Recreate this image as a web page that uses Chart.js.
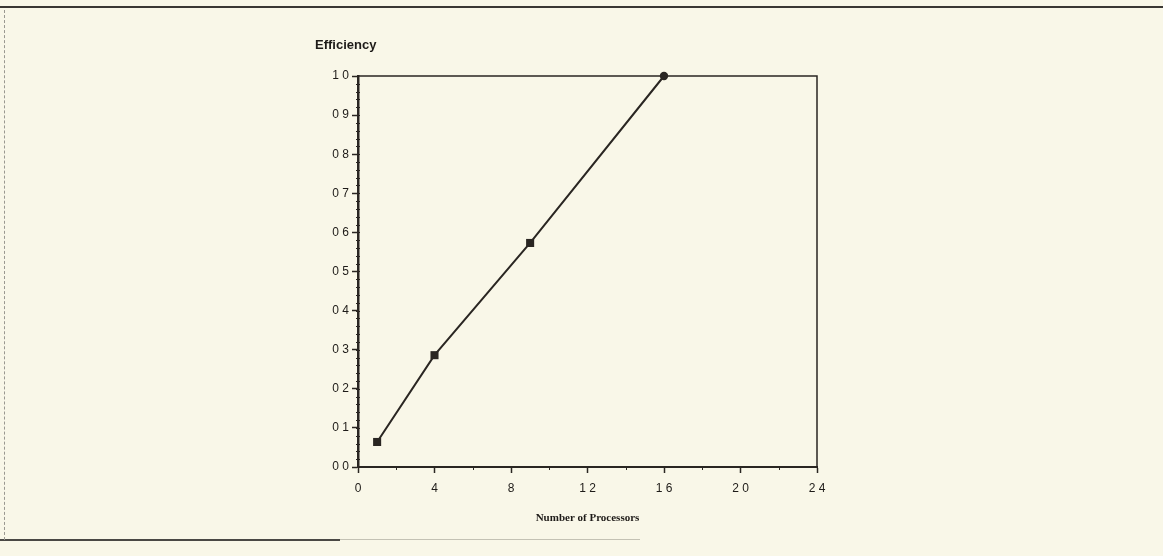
<!DOCTYPE html>
<html>
<head>
<meta charset="utf-8">
<script src="https://cdn.jsdelivr.net/npm/chart.js@4"></script>
<style>
  html, body { margin: 0; padding: 0; background: #f9f7e8; }
  #wrap { position: relative; width: 1163px; height: 556px; overflow: hidden; }
  #topLine { position: absolute; left: 0; top: 6px; width: 1163px; height: 2px; background: #3a3834; }
  #bottomLine { position: absolute; left: 0; top: 539px; width: 340px; height: 2px; background: #4a4844; }
  #bottomLine2 { position: absolute; left: 340px; top: 539px; width: 300px; height: 1px; background: #c4c2b4; }
  #leftLine { position: absolute; left: 4px; top: 10px; width: 0; height: 530px; border-left: 1px dashed #9a9890; }
  canvas { position: absolute; left: 0; top: 0; }
</style>
</head>
<body>
<div id="wrap">
  <div id="topLine"></div>
  <div id="bottomLine"></div>
  <div id="bottomLine2"></div>
  <div id="leftLine"></div>
  <canvas id="chart" width="1163" height="556"></canvas>
</div>
<script>
// Data
const processors = [1, 4, 9, 16];
const efficiency = [0.064, 0.286, 0.573, 1.0];
const markerStyles = ['rect', 'rect', 'rect', 'circle'];
const yLabel = 'Efficiency';
const xLabel = 'Number of Processors';

const ink = '#2a2622';

// Frame, minor ticks and axis titles
const framePlugin = {
    id: 'frame',
    beforeDatasetsDraw(chart) {
        const { ctx, chartArea: a, scales } = chart;
        ctx.save();
        ctx.strokeStyle = ink;
        // top and right edges of the box
        ctx.lineWidth = 1.5;
        ctx.beginPath();
        ctx.moveTo(a.left, a.top);
        ctx.lineTo(a.right, a.top);
        ctx.lineTo(a.right, a.bottom);
        ctx.stroke();
        // minor ticks on the y axis
        ctx.lineWidth = 1;
        for (let v = 0.02; v < 1; v += 0.02) {
            const y = Math.round(scales.y.getPixelForValue(v)) + 0.5;
            ctx.beginPath();
            ctx.moveTo(a.left - 2, y);
            ctx.lineTo(a.left + 2, y);
            ctx.stroke();
        }
        // minor ticks on the x axis
        for (let v = 2; v < 24; v += 4) {
            const x = Math.round(scales.x.getPixelForValue(v)) + 0.5;
            ctx.beginPath();
            ctx.moveTo(x, a.bottom + 3);
            ctx.lineTo(x, a.bottom - 1);
            ctx.stroke();
        }
        // axis titles
        ctx.fillStyle = '#1e1b18';
        ctx.font = 'bold 13px "Liberation Sans", Arial, sans-serif';
        ctx.textAlign = 'left';
        ctx.textBaseline = 'middle';
        ctx.fillText(yLabel, 315, 45);
        ctx.font = 'bold 11px "Liberation Serif", "Times New Roman", serif';
        ctx.textAlign = 'center';
        ctx.fillText(xLabel, (a.left + a.right) / 2, 518);
        ctx.restore();
    }
};

const ctx = document.getElementById('chart').getContext('2d');
const chart = new Chart(ctx, {
    type: 'scatter',
    data: {
        datasets: [{
            data: processors.map((p, i) => ({ x: p, y: efficiency[i] })),
            showLine: true,
            clip: false,
            borderColor: ink,
            borderWidth: 2,
            backgroundColor: ink,
            pointStyle: markerStyles,
            pointRadius: [5.7, 5.7, 5.7, 4.2],
            pointBorderWidth: 0,
        }],
    },
    options: {
        responsive: false,
        animation: false,
        layout: { padding: { left: 318, right: 346, top: 76, bottom: 30 } },
        plugins: {
            legend: { display: false },
            tooltip: { enabled: false },
        },
        scales: {
            x: {
                type: 'linear',
                min: 0,
                max: 24,
                afterFit: (s) => { s.height = 59; },
                border: { display: true, color: ink, width: 2 },
                grid: { drawOnChartArea: false, drawTicks: true, tickLength: 6, color: ink, tickWidth: 1.5 },
                ticks: {
                    stepSize: 4,
                    padding: 8,
                    color: '#1e1b18',
                    font: { family: '"Liberation Sans", Arial, sans-serif', size: 12 },
                    callback: (v) => String(v).split('').join(' '),
                },
            },
            y: {
                type: 'linear',
                min: 0,
                max: 1,
                afterFit: (s) => { s.width = 40; },
                border: { display: true, color: ink, width: 2.5 },
                grid: { drawOnChartArea: false, drawTicks: true, tickLength: 6, color: ink, tickWidth: 1.5 },
                ticks: {
                    stepSize: 0.1,
                    padding: 3,
                    color: '#1e1b18',
                    font: { family: '"Liberation Sans", Arial, sans-serif', size: 12 },
                    callback: (v) => v.toFixed(1).replace('.', ' '),
                },
            },
        },
    },
    plugins: [framePlugin],
});
</script>
</body>
</html>
